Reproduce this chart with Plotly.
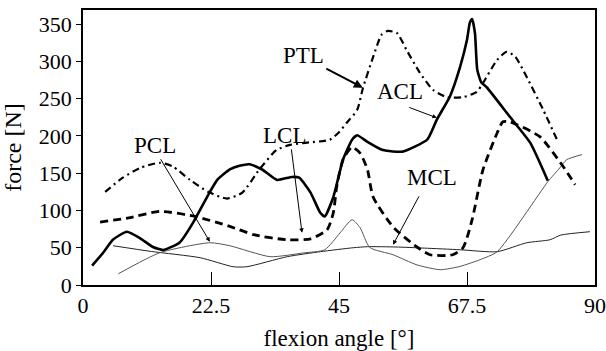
import plotly.graph_objects as go

# ---- data ----
acl_x = [1.6, 3.5, 5.3, 7.7, 10.0, 12.3, 14.1, 17.0, 19.3, 21.8, 23.6, 25.8, 27.5, 29.3, 31.5, 34.1, 36.7, 38.0, 40.0, 41.7, 42.5, 44.0, 45.7, 47.3, 48.2, 50.0, 52.7, 56.2, 60.5, 62.2, 64.5, 66.3, 67.5, 68.0, 68.4, 68.9, 69.3, 70.0, 71.0, 75.0, 78.6, 81.7]
acl_y = [26, 43, 61, 71.5, 63, 51, 47, 57, 83, 118, 141, 155, 160, 162, 155, 141, 145, 144, 124, 97, 92, 118, 168, 195, 201, 192, 181, 179, 195, 222, 253, 293, 329, 352, 357, 338, 289, 272, 265, 226, 191, 140]

ptl_x = [3.9, 7.0, 10.0, 13.5, 15.8, 18.8, 22.0, 25.3, 28.0, 31.0, 34.0, 36.4, 39.4, 43.4, 45.0, 46.4, 48.2, 49.2, 51.0, 52.5, 53.6, 55.2, 56.9, 59.2, 61.5, 64.0, 66.8, 69.2, 70.3, 72.8, 74.5, 76.0, 78.0, 80.9, 83.5]
ptl_y = [125, 144, 157, 164, 159, 141, 125, 116, 124, 155, 181, 188, 191, 195, 205, 218, 235, 264, 306, 336, 341, 338, 315, 285, 262, 252, 252, 259, 271, 302, 313, 306, 279, 235, 192]

lcl_x = [3.0, 8.0, 13.5, 19.7, 25.8, 30.0, 35.8, 40.0, 42.9, 44.0, 44.6, 45.7, 47.3, 48.7, 50.0, 51.0, 54.5, 58.7, 61.0, 65.0, 66.8, 68.4, 70.3, 72.8, 73.8, 75.0, 80.3, 84.4, 86.5]
lcl_y = [84.5, 90, 98.7, 92, 78.6, 67.5, 60.7, 62, 74, 97, 132, 168, 185, 177, 155, 118, 78, 51, 40.6, 40.6, 50, 87.6, 154.6, 204, 219, 219, 199, 159, 134.6]

mcl_x = [5.3, 12.0, 20.6, 26.4, 28.8, 35.9, 41.7, 47.5, 50.0, 55.0, 60.0, 66.3, 72.8, 78.0, 82.1, 84.0, 89.1]
mcl_y = [52.7, 45, 36.6, 24.5, 24.5, 38, 44.7, 50, 51.4, 51, 49.5, 47.3, 44.7, 56.7, 60.7, 67, 71.5]

pcl_x = [6.2, 13.5, 22.3, 25.8, 32.9, 38.7, 42.5, 45.2, 47.3, 48.7, 50.4, 54.5, 58.7, 62.8, 66.3, 69.8, 72.8, 81.7, 83.8, 85.0, 87.7]
pcl_y = [15, 43.3, 56.7, 52.7, 38, 43, 47.3, 70, 87.6, 77, 50.4, 40.6, 27, 20.5, 25, 34, 44.7, 138.5, 157, 168, 175]

x_ticks = [0, 22.5, 45, 67.5, 90]
x_ticklabels = ["0", "22.5", "45", "67.5", "90"]
y_ticks = [0, 50, 100, 150, 200, 250, 300, 350]

# labels: (text, label x, label y, arrow tail x, tail y, tip x, tip y)
labels = [
    ("PCL", 12.7, 186.8, 13.5, 170.7, 22.3, 58.0),
    ("LCL", 35.5, 200.2, 36.6, 184.0, 38.5, 70.0),
    ("PTL", 38.7, 307.5, 42.5, 291.4, 49.2, 264.6),
    ("ACL", 55.7, 259.0, 57.1, 239.0, 62.2, 224.3),
    ("MCL", 61.3, 143.9, 59.2, 121.0, 54.5, 54.0),
]

FONT = "Times New Roman, Liberation Serif, Tinos, serif"

fig = go.Figure()
fig.add_trace(go.Scatter(x=mcl_x, y=mcl_y, mode="lines", name="MCL",
                         line=dict(color="#222222", width=1, shape="spline", smoothing=0.6)))
fig.add_trace(go.Scatter(x=pcl_x, y=pcl_y, mode="lines", name="PCL",
                         line=dict(color="#555555", width=1, shape="spline", smoothing=0.6)))
fig.add_trace(go.Scatter(x=lcl_x, y=lcl_y, mode="lines", name="LCL",
                         line=dict(color="black", width=2.8, dash="8px,5px", shape="spline", smoothing=0.6)))
fig.add_trace(go.Scatter(x=ptl_x, y=ptl_y, mode="lines", name="PTL",
                         line=dict(color="black", width=2.2, dash="7px,4px,2px,4px", shape="spline", smoothing=0.6)))
fig.add_trace(go.Scatter(x=acl_x, y=acl_y, mode="lines", name="ACL",
                         line=dict(color="black", width=2.6, shape="spline", smoothing=0.5)))

for text, lx, ly, tx, ty, hx, hy in labels:
    fig.add_annotation(x=lx, y=ly, text=text, showarrow=False,
                       font=dict(family=FONT, size=23, color="black"))
    fig.add_annotation(x=hx, y=hy, ax=tx, ay=ty, axref="x", ayref="y", text="",
                       showarrow=True, arrowhead=2, arrowsize=0.9,
                       arrowwidth=2 if text == "PTL" else 1, arrowcolor="black")

fig.update_layout(
    width=606, height=351,
    margin=dict(l=83, r=11, t=10, b=66),
    paper_bgcolor="white", plot_bgcolor="white",
    showlegend=False,
    font=dict(family=FONT, size=22, color="black"),
)
fig.update_xaxes(range=[0, 90], tickvals=x_ticks, ticktext=x_ticklabels,
                 ticks="inside", ticklen=13, tickcolor="black", tickwidth=1,
                 showline=True, mirror=True, linecolor="black", linewidth=1.5,
                 showgrid=False, zeroline=False, automargin=False,
                 title=dict(text="flexion angle [°]", font=dict(family=FONT, size=23), standoff=14))
fig.update_yaxes(range=[0, 369], tickvals=y_ticks,
                 ticks="outside", ticklen=5, tickcolor="black", tickwidth=1,
                 showline=True, mirror=True, linecolor="black", linewidth=1.5,
                 showgrid=False, zeroline=False, automargin=False,
                 title=dict(text="force [N]", font=dict(family=FONT, size=24), standoff=10))

fig.write_html("out.html")
